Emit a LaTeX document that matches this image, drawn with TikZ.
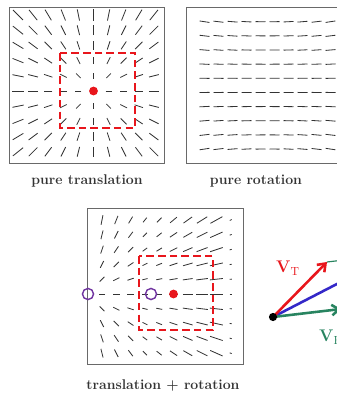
\documentclass[tikz,border=0pt]{standalone}
\usepackage{tikz}
\usetikzlibrary{arrows.meta}
\definecolor{flowRed}{RGB}{232,22,28}
\definecolor{flowBlue}{RGB}{52,40,200}
\definecolor{flowGreen}{RGB}{40,132,96}
\definecolor{flowPurple}{RGB}{112,52,160}
\definecolor{frameGray}{RGB}{105,105,105}

\begin{document}
\begin{tikzpicture}[x=0.03cm, y=-0.03cm,
    panel/.style={draw=frameGray, line width=0.8pt},
    flow/.style={draw=black!80, line width=0.7pt},
    window/.style={draw=flowRed, line width=1.7pt, dash pattern=on 6.5pt off 3.5pt},
    focus/.style={circle, fill=flowRed, inner sep=0pt, minimum size=7.5pt},
    fixpt/.style={circle, draw=flowPurple, line width=1.2pt, inner sep=0pt, minimum size=9.5pt},
    caption/.style={font=\fontsize{12}{14}\selectfont\bfseries, text=black!80, inner sep=0pt},
    vec/.style={line width=2.2pt, -{Straight Barb[length=6pt, width=9pt]}}
]
\useasboundingbox (0,0) rectangle (337,393);
\clip (0,0) rectangle (337,393);

\draw[panel] (9,7) rectangle (164,163);
\foreach \i in {0,...,9}
  \foreach \j in {0,...,9}{
    \pgfmathsetmacro\fx{\i-5}
    \pgfmathsetmacro\fy{\j-5}
    \pgfmathsetmacro\fr{veclen(\fx,\fy)}
    \ifdim\fr pt>0.1pt
      \pgfmathsetmacro\fa{atan2(\fy,\fx)}
      \pgfmathsetmacro\fl{4.5+1.35*\fr}
      \draw[flow] (18+15.1*\i,15+15.2*\j) ++(\fa+180:0.5*\fl) -- ++(\fa:\fl);
    \fi
  }
\draw[window] (60,53) rectangle (135,128);
\node[focus] (foeT) at (93.5,91) {};
\node[caption] (capT) at (87,181) {pure translation};

\draw[panel] (186,7) rectangle (342,163);
\foreach \i in {0,...,9}
  \foreach \j in {0,...,9}{
    \pgfmathsetmacro\fa{atan(0.0075*(\i-4.5)*(\j-4.5))}
    \draw[flow] (204.5+14*\i,21.7+14.15*\j) ++(\fa+180:5) -- ++(\fa:10);
  }
\node[caption] (capR) at (256,181) {pure rotation};

\draw[panel] (87,208) rectangle (243,364);
\foreach \i in {0,...,9}
  \foreach \j in {0,...,9}{
    \pgfmathsetmacro\fu{(\i-3.4)*(\i+1)}
    \pgfmathsetmacro\fv{(\i-3.4)*(\j-5)}
    \pgfmathsetmacro\fm{veclen(\fu,\fv)}
    \pgfmathsetmacro\fa{atan2(\fv,\fu)}
    \pgfmathsetmacro\fl{(3.5+10.5*sqrt(min(\fm,50)/50))*(\i<9 ? 1 : 0.15)}
    \draw[flow] (102+14.3*\i,220+14.8*\j) ++(\fa+180:0.5*\fl) -- ++(\fa:\fl);
  }
\draw[window] (139,256) rectangle (213,330);
\node[focus] (foeC) at (173.5,294) {};
\node[fixpt] (fixL) at (88,294) {};
\node[fixpt] (fixR) at (151,294) {};
\node[caption] (capC) at (163,386) {translation + rotation};

\coordinate (orig) at (273,317);
\coordinate (vt) at (327,262);
\coordinate (vr) at (341,309);
\coordinate (vs) at (395,254);
\draw[flowGreen, line width=1pt] (vt) -- (vs);
\draw[vec, flowBlue] (orig) -- (vs);
\draw[vec, flowGreen] (orig) -- (vr);
\draw[vec, flowRed] (orig) -- (vt);
\node[circle, fill=black, inner sep=0pt, minimum size=7pt] (odot) at (orig) {};
\node[anchor=west, inner sep=0pt, text=flowRed, font=\fontsize{14}{16}\selectfont] (labT) at (276,268) {$\mathbf{V}_{\mathrm{T}}$};
\node[anchor=west, inner sep=0pt, text=flowGreen, font=\fontsize{14}{16}\selectfont] (labR) at (319,337) {$\mathbf{V}_{\mathrm{R}}$};
\end{tikzpicture}
\end{document}
